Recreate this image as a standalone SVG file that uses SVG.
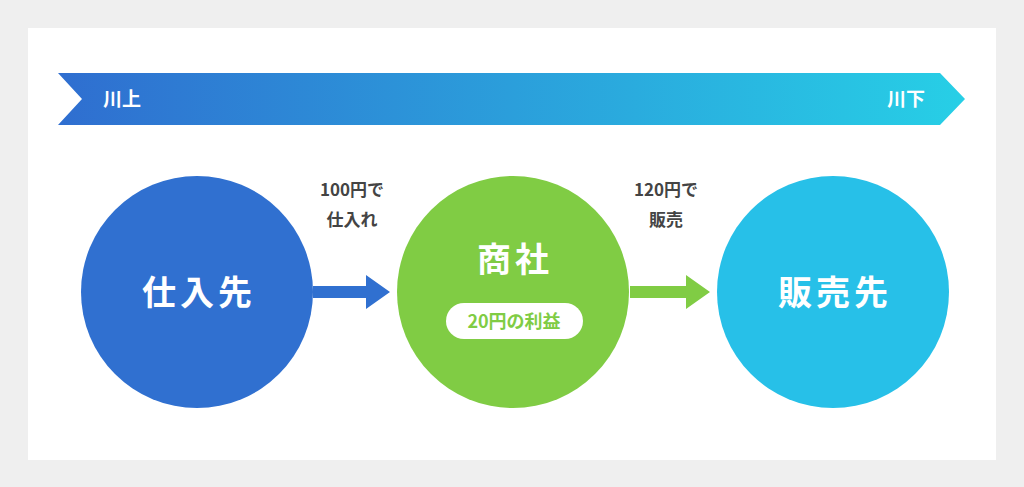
<svg xmlns="http://www.w3.org/2000/svg" width="1024" height="487" viewBox="0 0 1024 487">
<defs>
<linearGradient id="g" x1="0" x2="1" y1="0" y2="0"><stop offset="0" stop-color="#2f6ed0"/><stop offset="1" stop-color="#27cfe6"/></linearGradient>
<style>
text{font-family:"Noto Sans CJK JP","Noto Sans",sans-serif;text-anchor:middle}
.big{font-size:34px;font-weight:bold;fill:#fff;letter-spacing:4px}
.lbl{font-size:17px;font-weight:bold;fill:#444}
.ban{font-size:19px;font-weight:bold;fill:#fff}
</style>
</defs>
<rect width="1024" height="487" fill="#efefef"/>
<rect x="28" y="28" width="968" height="432" fill="#fff"/>
<g id="banner">
<polygon points="58,73 940,73 965,99 940,125 58,125 82,99" fill="url(#g)"/>
<text class="ban" x="122" y="106">川上</text>
<text class="ban" x="906" y="106">川下</text>
</g>
<g id="connectors">
<polygon points="313,286 366,286 366,275 390,292 366,309 366,298 313,298" fill="#3070d0"/>
<polygon points="630,286 686,286 686,275 710,292 686,309 686,298 630,298" fill="#80cc44"/>
<text class="lbl" x="352" y="196">100円で</text>
<text class="lbl" x="352" y="226">仕入れ</text>
<text class="lbl" x="666" y="196">120円で</text>
<text class="lbl" x="666" y="226">販売</text>
</g>
<g id="supplier">
<circle cx="197" cy="292" r="116" fill="#3070d0"/>
<text class="big" x="199" y="305">仕入先</text>
</g>
<g id="trader">
<circle cx="513" cy="292" r="116" fill="#80cc44"/>
<text class="big" x="515" y="272">商社</text>
<rect x="446" y="303" width="137" height="36" rx="18" fill="#fff"/>
<text x="514" y="328" style="font-size:18px;font-weight:bold;fill:#80cc44">20円の利益</text>
</g>
<g id="seller">
<circle cx="833" cy="292" r="116" fill="#27c0e8"/>
<text class="big" x="835" y="305">販売先</text>
</g>
</svg>
